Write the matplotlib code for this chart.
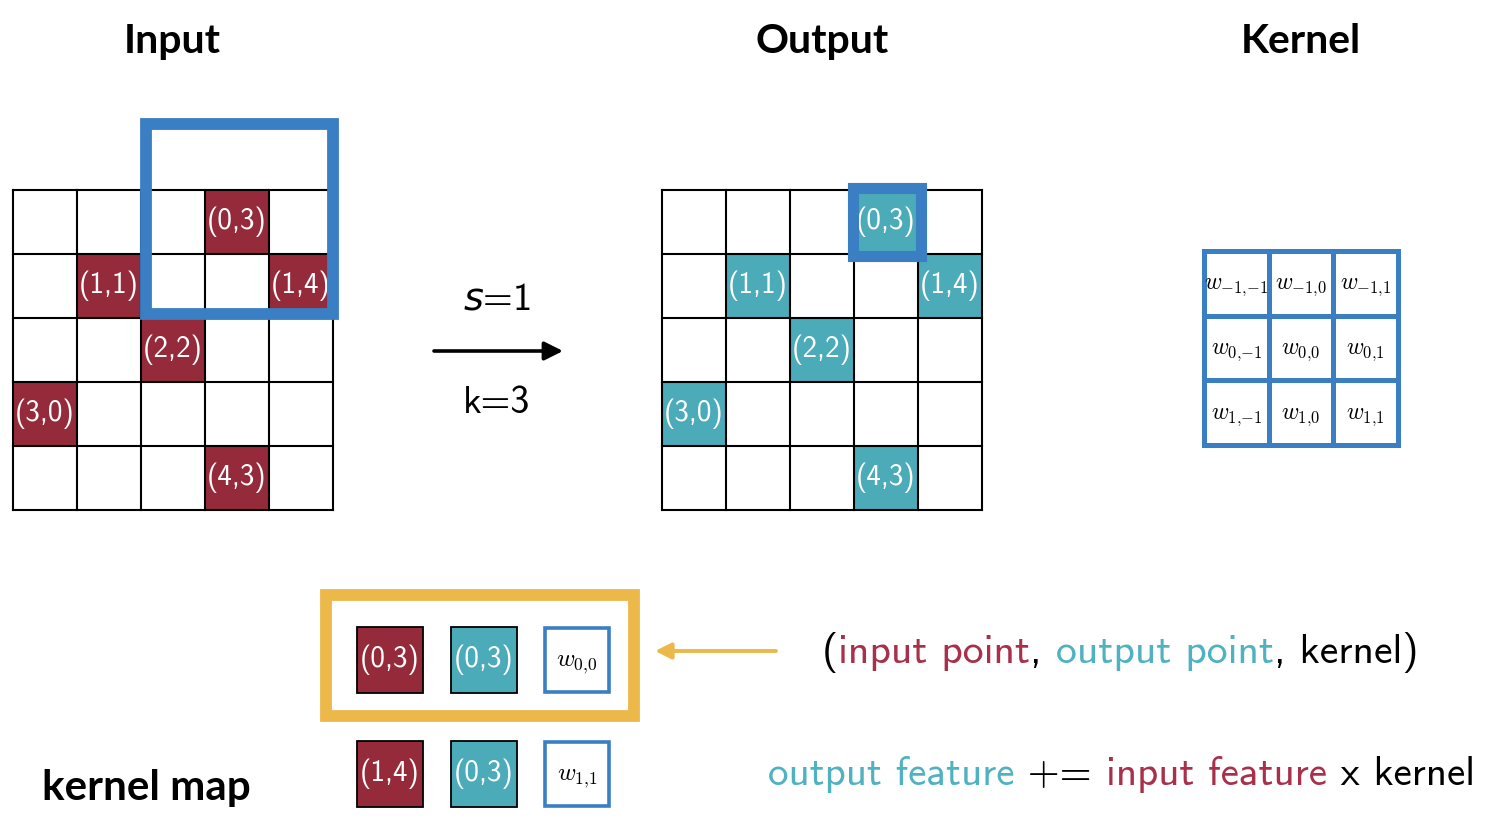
import matplotlib
matplotlib.use('Agg')
import matplotlib.pyplot as plt
from matplotlib.patches import Rectangle

# ----- data -----
grid_size = 5
active_cells = [(0, 3), (1, 1), (1, 4), (2, 2), (3, 0), (4, 3)]
center_cell = (0, 3)
kernel_offsets = [-1, 0, 1]
stride, ksize = 1, 3
# (input point, output point, kernel offset)
kernel_map = [((0, 3), (0, 3), (0, 0)),
              ((1, 4), (0, 3), (1, 1))]
titles = ['Input', 'Output', 'Kernel']

# ----- style -----
RED = '#952a3a'
TEAL = '#4babb9'
BLUE = '#3a7ec4'
YELLOW = '#edb84a'
RED_TXT = '#a8304a'
TEAL_TXT = '#4fb2c0'
SANS = 'cmss10'
BOLD = 'Lato'

W, H = 1486, 834
fig = plt.figure(figsize=(W / 100, H / 100), dpi=100)
ax = fig.add_axes([0, 0, 1, 1])
ax.set_xlim(0, W)
ax.set_ylim(H, 0)
ax.axis('off')
renderer = fig.canvas.get_renderer()

cell = 64
in_x0, out_x0, grid_y0 = 13, 662, 190


def lbl(r, c):
    return f'({r},{c})'


def wlbl(r, c):
    # kernel weight label, commas without math spacing
    return f'$w_{{{{{r}}}{{,}}{{{c}}}}}$'


def draw_grid(x0, y0, fill):
    for r, c in active_cells:
        ax.add_patch(Rectangle((x0 + c * cell, y0 + r * cell), cell, cell,
                               facecolor=fill, edgecolor='none', zorder=1))
        ax.text(x0 + (c + 0.5) * cell, y0 + (r + 0.5) * cell, lbl(r, c),
                color='white', fontsize=21, family=SANS,
                ha='center', va='center', zorder=3)
    for i in range(grid_size + 1):
        ax.plot([x0 + i * cell] * 2, [y0, y0 + grid_size * cell],
                color='black', lw=1.5, zorder=2, solid_capstyle='projecting')
        ax.plot([x0, x0 + grid_size * cell], [y0 + i * cell] * 2,
                color='black', lw=1.5, zorder=2, solid_capstyle='projecting')


draw_grid(in_x0, grid_y0, RED)
draw_grid(out_x0, grid_y0, TEAL)

# receptive field on the input
cr, cc = center_cell
half = ksize // 2
ax.add_patch(Rectangle((in_x0 + (cc - half) * cell + 5, grid_y0 + (cr - half) * cell - 2),
                       ksize * cell - 5, ksize * cell - 2,
                       facecolor='none', edgecolor=BLUE, lw=8.5, zorder=4,
                       joinstyle='miter'))
# highlighted output point
ax.add_patch(Rectangle((out_x0 + cc * cell - 1, grid_y0 + cr * cell - 2), cell + 4, cell + 4,
                       facecolor='none', edgecolor=BLUE, lw=8, zorder=4,
                       joinstyle='miter'))

# kernel
k_x0, k_y0, kcell = 1204, 251, 64.7
for i, r in enumerate(kernel_offsets):
    for j, c in enumerate(kernel_offsets):
        ax.text(k_x0 + (j + 0.5) * kcell, k_y0 + (i + 0.5) * kcell + 3,
                wlbl(r, c), fontsize=17, math_fontfamily='cm',
                ha='center', va='center', zorder=3)
for i in range(len(kernel_offsets) + 1):
    ax.plot([k_x0 + i * kcell] * 2, [k_y0, k_y0 + 3 * kcell],
            color=BLUE, lw=3.6, zorder=2, solid_capstyle='projecting')
    ax.plot([k_x0, k_x0 + 3 * kcell], [k_y0 + i * kcell] * 2,
            color=BLUE, lw=3.6, zorder=2, solid_capstyle='projecting')

# titles
for t, xc in zip(titles, [172, 822, 1301]):
    ax.text(xc, 53, t, fontsize=29.5, family=BOLD, fontweight='bold',
            ha='center', va='baseline')

# arrow with stride / kernel size
ax.annotate('', xy=(563, 351), xytext=(434, 351),
            arrowprops=dict(arrowstyle='-|>', lw=2.6, color='black',
                            mutation_scale=28, shrinkA=0, shrinkB=0))
ax.text(497, 309, f'$s$={stride}', fontsize=27.5, family=SANS,
        math_fontfamily='dejavusans', ha='center', va='baseline')
ax.text(497, 413, f'k={ksize}', fontsize=27.5, family=SANS,
        ha='center', va='baseline')

# kernel map
sq = 66
col_x = [357, 451, 544]
row_y = [627, 741]
for (ip, op, kw), y in zip(kernel_map, row_y):
    ax.add_patch(Rectangle((col_x[0], y), sq, sq, facecolor=RED,
                           edgecolor='black', lw=1.3, zorder=2))
    ax.text(col_x[0] + sq / 2, y + sq / 2, lbl(*ip), color='white',
            fontsize=21, family=SANS, ha='center', va='center', zorder=3)
    ax.add_patch(Rectangle((col_x[1], y), sq, sq, facecolor=TEAL,
                           edgecolor='black', lw=1.3, zorder=2))
    ax.text(col_x[1] + sq / 2, y + sq / 2, lbl(*op), color='white',
            fontsize=21, family=SANS, ha='center', va='center', zorder=3)
    ax.add_patch(Rectangle((col_x[2] + 1, y + 1), sq - 2, sq - 2, facecolor='white',
                           edgecolor=BLUE, lw=2.6, zorder=2))
    ax.text(col_x[2] + sq / 2, y + sq / 2 + 4, wlbl(*kw),
            fontsize=18, math_fontfamily='cm', ha='center', va='center', zorder=3)

ax.add_patch(Rectangle((326, 595), 308, 121, facecolor='none', edgecolor=YELLOW,
                       lw=8.5, zorder=4, joinstyle='miter'))
ax.annotate('', xy=(655, 651), xytext=(776, 651),
            arrowprops=dict(arrowstyle='-|>', lw=2.8, color=YELLOW,
                            mutation_scale=24, shrinkA=0, shrinkB=0))

ax.text(42, 800, 'kernel map', fontsize=30.3, family=BOLD, fontweight='bold',
        ha='left', va='baseline')


def text_width(s, size):
    t = ax.text(0, 0, s + '|', fontsize=size, family=SANS)
    w1 = t.get_window_extent(renderer).width
    t.remove()
    t = ax.text(0, 0, '|', fontsize=size, family=SANS)
    w2 = t.get_window_extent(renderer).width
    t.remove()
    return w1 - w2


def colored_line(x, y, parts, size):
    prefix = ''
    for s, col in parts:
        ax.text(x + text_width(prefix, size) if prefix else x, y, s, color=col,
                fontsize=size, family=SANS, ha='left', va='baseline')
        prefix += s


colored_line(822, 663, [('(', 'black'), ('input point', RED_TXT), (', ', 'black'),
                        ('output point', TEAL_TXT), (', kernel)', 'black')], 30)
colored_line(768, 785, [('output feature', TEAL_TXT), (' += ', 'black'),
                        ('input feature', RED_TXT), (' x kernel', 'black')], 29.6)

fig.savefig('out.png', dpi=100, facecolor='white')
